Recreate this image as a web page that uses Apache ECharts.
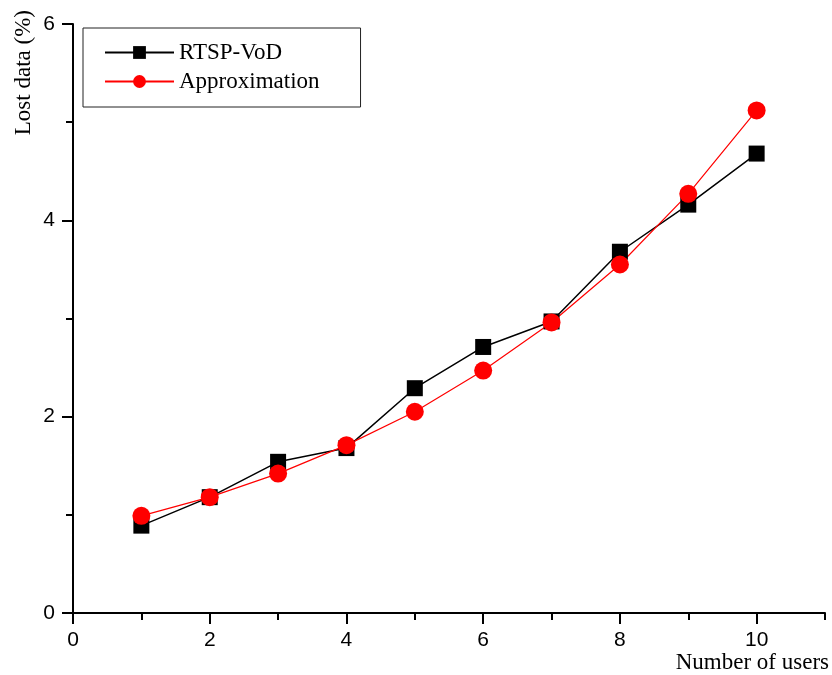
<!DOCTYPE html>
<html>
<head>
<meta charset="utf-8">
<script src="https://cdn.jsdelivr.net/npm/echarts@6/dist/echarts.min.js"></script>
<style>html,body{margin:0;padding:0;background:#fff;}#c{width:832px;height:675px;}</style>
</head>
<body>
<div id="c"></div>
<script>
const users = [1, 2, 3, 4, 5, 6, 7, 8, 9, 10];
const rtspVod = [0.89, 1.18, 1.54, 1.68, 2.29, 2.71, 2.97, 3.68, 4.16, 4.68];
const approximation = [0.99, 1.18, 1.42, 1.71, 2.05, 2.47, 2.96, 3.55, 4.27, 5.12];
const xTickLabels = [0, 2, 4, 6, 8, 10];
const yTickLabels = [0, 2, 4, 6];

const chart = echarts.init(document.getElementById('c'), null, {renderer: 'canvas'});
const sans = 'Liberation Sans';
const serif = 'Liberation Serif';
const gridPos = {left: 73, right: 7, top: 24, bottom: 62};
chart.setOption({
  animation: false,
  backgroundColor: '#fff',
  grid: [Object.assign({}, gridPos), Object.assign({}, gridPos)],
  legend: {
    left: 83, top: 28,
    orient: 'vertical',
    padding: [13, 41, 14, 21],
    itemWidth: 69, itemHeight: 16, itemGap: 6,
    borderColor: '#222', borderWidth: 1,
    textStyle: {fontFamily: serif, fontSize: 23, color: '#000'},
    data: ['RTSP-VoD', 'Approximation']
  },
  xAxis: [{
    type: 'value', gridIndex: 0, min: 0, max: 11, interval: 1,
    name: 'Number of users', nameLocation: 'end', nameGap: 4,
    nameTextStyle: {fontFamily: serif, fontSize: 23, color: '#000', align: 'right', verticalAlign: 'top', padding: [38, 0, 0, 0]},
    axisLine: {onZero: false, lineStyle: {color: '#000', width: 2}},
    axisTick: {customValues: xTickLabels, length: 11, lineStyle: {color: '#000', width: 2}},
    axisLabel: {customValues: xTickLabels, margin: 17, fontFamily: sans, fontSize: 21, color: '#000'},
    splitLine: {show: false}
  }, {
    type: 'value', gridIndex: 1, min: 0, max: 11, interval: 1,
    axisLine: {show: false},
    axisTick: {length: 7, lineStyle: {color: '#000', width: 2}},
    axisLabel: {show: false},
    splitLine: {show: false}
  }],
  yAxis: [{
    type: 'value', gridIndex: 0, min: 0, max: 6, interval: 2,
    name: 'Lost data (%)', nameLocation: 'end', nameGap: 14, nameRotate: 90,
    nameTextStyle: {fontFamily: serif, fontSize: 23, color: '#000', align: 'right', verticalAlign: 'bottom', padding: [0, 0, 38, 0]},
    axisLine: {onZero: false, lineStyle: {color: '#000', width: 2}},
    axisTick: {length: 11, lineStyle: {color: '#000', width: 2}},
    axisLabel: {margin: 18, fontFamily: sans, fontSize: 21, color: '#000'},
    splitLine: {show: false}
  }, {
    type: 'value', gridIndex: 1, min: 0, max: 6, interval: 1,
    axisLine: {show: false},
    axisTick: {length: 7, lineStyle: {color: '#000', width: 2}},
    axisLabel: {show: false},
    splitLine: {show: false}
  }],
  series: [{
    name: 'RTSP-VoD', type: 'line', xAxisIndex: 0, yAxisIndex: 0,
    data: users.map((u, i) => [u, rtspVod[i]]),
    symbol: 'rect', symbolSize: 16,
    itemStyle: {color: '#000'},
    lineStyle: {color: '#000', width: 1.5}
  }, {
    name: 'Approximation', type: 'line', xAxisIndex: 0, yAxisIndex: 0,
    data: users.map((u, i) => [u, approximation[i]]),
    symbol: 'circle', symbolSize: 18,
    itemStyle: {color: '#ff0000'},
    lineStyle: {color: '#ff0000', width: 1.2}
  }]
});
</script>
</body>
</html>
